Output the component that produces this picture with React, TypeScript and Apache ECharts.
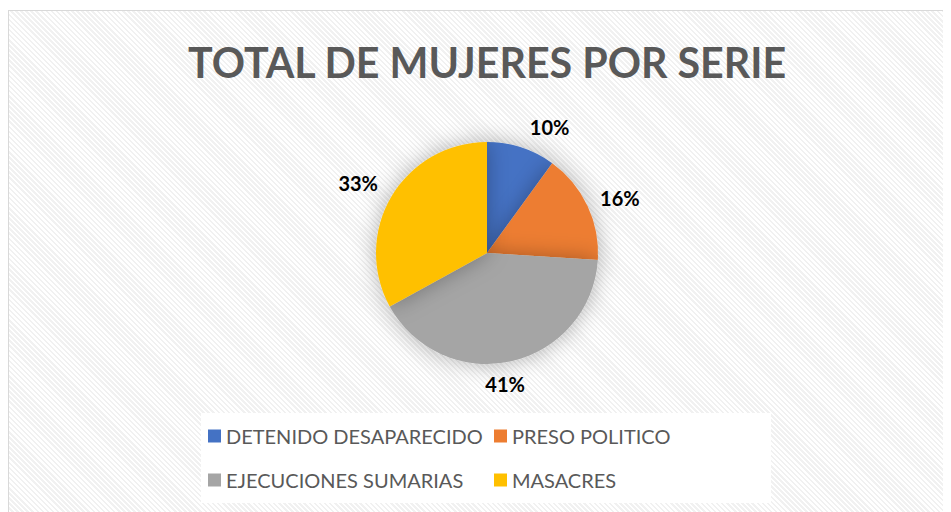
import React, { useEffect, useRef } from "react";
import * as echarts from "echarts";

const titleText = "TOTAL DE MUJERES POR SERIE";
const categories = ["DETENIDO DESAPARECIDO", "PRESO POLITICO", "EJECUCIONES SUMARIAS", "MASACRES"];
const values = [10, 16, 41, 33];
const colors = ["#4472C4", "#ED7D31", "#A5A5A5", "#FFC000"];
const legendCol1 = ["DETENIDO DESAPARECIDO", "EJECUCIONES SUMARIAS"];
const legendCol2 = ["PRESO POLITICO", "MASACRES"];

// label nudges to mimic Excel's best-fit placement
const labelDx = [20, 8, -12, -10];
const labelDy = [5, 4, -4, 0];

export default function App() {
  const ref = useRef<HTMLDivElement>(null);
  useEffect(() => {
    if (!ref.current) return;
    const chart = echarts.init(ref.current, null, { renderer: "svg" });
    const legendText = { color: "#595959", fontSize: 20, fontFamily: "Lato" };
    chart.setOption({
      animation: false,
      backgroundColor: "transparent",
      color: colors,
      title: {
        text: titleText,
        left: 473,
        top: 25,
        textAlign: "center",
        textStyle: { color: "#595959", fontSize: 41.2, fontWeight: "bold", fontFamily: "Lato" },
      },
      graphic: [
        {
          type: "rect",
          left: 192,
          top: 402,
          shape: { width: 570, height: 90 },
          style: { fill: "#ffffff" },
          z: 0,
        },
      ],
      legend: [
        {
          orient: "vertical",
          left: 199,
          top: 415,
          itemWidth: 13,
          itemHeight: 13,
          itemGap: 24,
          icon: "rect",
          data: legendCol1,
          textStyle: legendText,
          padding: 0,
        },
        {
          orient: "vertical",
          left: 485,
          top: 415,
          itemWidth: 13,
          itemHeight: 13,
          itemGap: 24,
          icon: "rect",
          data: legendCol2,
          textStyle: legendText,
          padding: 0,
        },
      ],
      series: [
        {
          type: "pie",
          center: [478, 242],
          radius: 111,
          startAngle: 90,
          clockwise: true,
          avoidLabelOverlap: false,
          itemStyle: { shadowBlur: 22, shadowColor: "rgba(0,0,0,0.3)" },
          label: {
            show: true,
            position: "outside",
            formatter: "{d}%",
            color: "#000",
            fontWeight: "bold",
            fontSize: 20,
            fontFamily: "Lato",
            distanceToLabelLine: 0,
          },
          labelLine: { show: false, length: 27, length2: 0 },
          labelLayout: (p: any) => ({
            align: "center",
            verticalAlign: "middle",
            dx: labelDx[p.dataIndex],
            dy: labelDy[p.dataIndex],
          }),
          emphasis: { disabled: true },
          data: categories.map((c, i) => ({ name: c, value: values[i] })),
        },
      ],
    });
    return () => chart.dispose();
  }, []);
  return (
    <div
      ref={ref}
      style={{
        width: 943,
        height: 502,
        marginTop: 2,
        boxSizing: "border-box",
        borderLeft: "1px solid #d9d9d9",
        borderTop: "1px solid #d9d9d9",
        background:
          "repeating-linear-gradient(45deg, #ffffff 0px, #ffffff 1.8px, #f1f1f1 1.8px, #f1f1f1 3.6px)",
      }}
    />
  );
}
